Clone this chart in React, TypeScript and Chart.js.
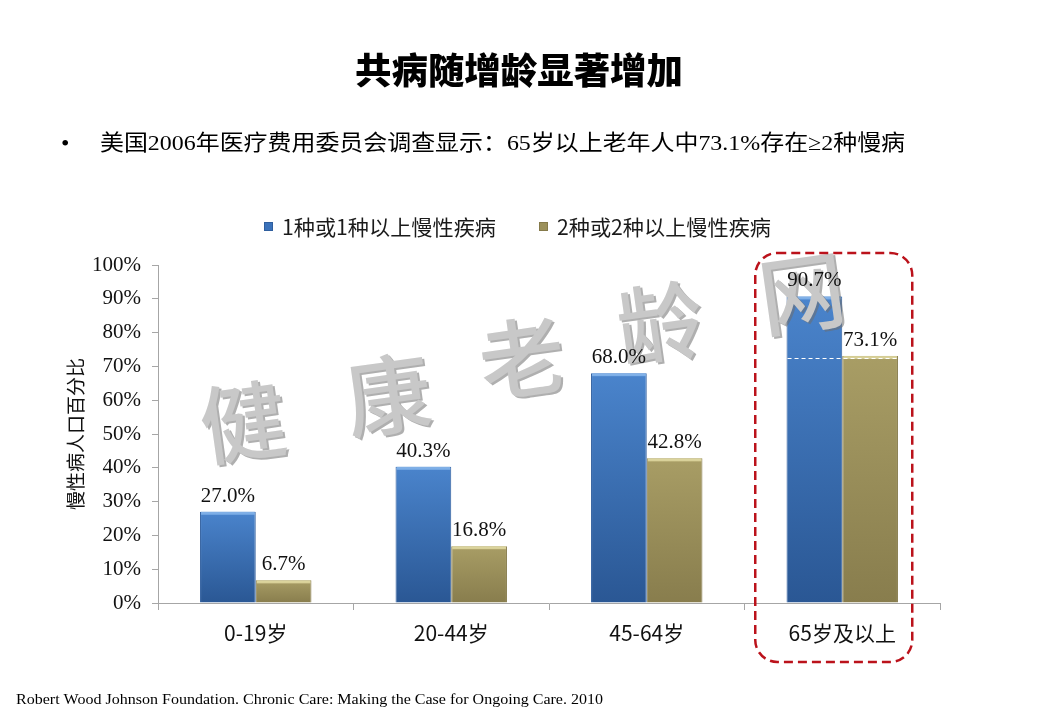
import React, { useEffect, useRef } from "react";
import { Chart, registerables } from "chart.js";

Chart.register(...registerables);

const categories = ["0-19岁", "20-44岁", "45-64岁", "65岁及以上"];
const oneOrMore = [27.0, 40.3, 68.0, 90.7];
const twoOrMore = [6.7, 16.8, 42.8, 73.1];
const seriesNames = ["1种或1种以上慢性疾病", "2种或2种以上慢性疾病"];
const yTickValues = [0, 10, 20, 30, 40, 50, 60, 70, 80, 90, 100];
const yAxisTitle = "慢性病人口百分比";
const titleText = "共病随增龄显著增加";
const bulletText = "美国2006年医疗费用委员会调查显示：65岁以上老年人中73.1%存在≥2种慢病";
const sourceText = "Robert Wood Johnson Foundation. Chronic Care: Making the Case for Ongoing Care. 2010";
const watermarkChars = ["健", "康", "老", "龄", "网"];
const highlightIndex = 3;

const CJK = "'Noto Sans CJK SC', 'Noto Sans', sans-serif";
const SERIF = "'Liberation Serif', 'DejaVu Serif', serif";

const palettes = [
  { top: "#4a84cc", bottom: "#2a5794", flat: "#3b72ba", edge: "#2f5e9e", hi: "#86b6ec" },
  { top: "#a89d65", bottom: "#887d4d", flat: "#9c915b", edge: "#857a4a", hi: "#e2daa2" },
];

function barFill(ds: number) {
  return (ctx: any) => {
    const p = palettes[ds];
    const chart = ctx.chart;
    const ys = chart.scales && chart.scales.y;
    if (!ys || !ctx.parsed || ctx.parsed.y == null) return p.flat;
    const top = ys.getPixelForValue(ctx.parsed.y);
    const bottom = ys.getPixelForValue(0);
    if (!isFinite(top) || !isFinite(bottom) || top === bottom) return p.flat;
    const g = chart.ctx.createLinearGradient(0, top, 0, bottom);
    g.addColorStop(0, p.top);
    g.addColorStop(1, p.bottom);
    return g;
  };
}

function fitText(ctx: any, text: string, x: number, y: number, width: number) {
  const w = ctx.measureText(text).width;
  ctx.save();
  ctx.translate(x, y);
  ctx.scale(width / w, 1);
  ctx.fillText(text, 0, 0);
  ctx.restore();
}

const decorPlugin = {
  id: "decor",
  beforeDraw(chart: any) {
    const { ctx } = chart;
    ctx.save();
    ctx.fillStyle = "#ffffff";
    ctx.fillRect(0, 0, chart.width, chart.height);
    // title
    ctx.fillStyle = "#000";
    ctx.textAlign = "left";
    ctx.textBaseline = "middle";
    ctx.font = `900 36px ${CJK}`;
    fitText(ctx, titleText, 355, 70, 328);
    // bullet
    ctx.font = `24px ${SERIF}`;
    ctx.fillText("•", 61, 145);
    ctx.font = `22px 'Liberation Serif', 'Noto Sans CJK SC'`;
    fitText(ctx, bulletText, 100, 144, 805);
    // source
    ctx.font = `15px ${SERIF}`;
    fitText(ctx, sourceText, 16, 700, 587);
    // legend
    const items = [
      { x: 264, text: seriesNames[0], p: palettes[0] },
      { x: 539, text: seriesNames[1], p: palettes[1] },
    ];
    ctx.font = `21px ${CJK}`;
    for (const it of items) {
      ctx.fillStyle = it.p.flat;
      ctx.fillRect(it.x, 222, 9, 9);
      ctx.strokeStyle = it.p.edge;
      ctx.lineWidth = 1;
      ctx.strokeRect(it.x + 0.5, 222.5, 8, 8);
      ctx.fillStyle = "#1a1a1a";
      ctx.textBaseline = "middle";
      fitText(ctx, it.text, it.x + 18, 227, 214);
    }
    ctx.restore();
  },
  afterDatasetsDraw(chart: any) {
    const { ctx } = chart;
    ctx.save();
    // bar top highlights
    chart.data.datasets.forEach((_: any, di: number) => {
      const meta = chart.getDatasetMeta(di);
      meta.data.forEach((bar: any) => {
        const w = bar.width;
        ctx.fillStyle = palettes[di].hi;
        ctx.globalAlpha = 0.85;
        ctx.fillRect(bar.x - w / 2 + 1, bar.y, w - 2, 3);
        ctx.globalAlpha = 1;
      });
    });
    // faint white dashed line at highlighted olive value
    const ys = chart.scales.y;
    const b0 = chart.getDatasetMeta(0).data[highlightIndex];
    const b1 = chart.getDatasetMeta(1).data[highlightIndex];
    const ly = Math.round(ys.getPixelForValue(twoOrMore[highlightIndex])) + 2.5;
    ctx.strokeStyle = "#ffffff";
    ctx.lineWidth = 1;
    ctx.setLineDash([4, 3]);
    ctx.beginPath();
    ctx.moveTo(b0.x - b0.width / 2 + 1, ly);
    ctx.lineTo(b1.x + b1.width / 2 + 4, ly);
    ctx.stroke();
    ctx.setLineDash([]);
    // watermark
    const pos = [
      [243, 422],
      [388, 395],
      [522, 358],
      [660, 323],
      [802, 293],
    ];
    ctx.font = `500 86px ${CJK}`;
    ctx.textAlign = "center";
    ctx.textBaseline = "middle";
    watermarkChars.forEach((c, i) => {
      ctx.save();
      ctx.translate(pos[i][0], pos[i][1]);
      ctx.rotate(-0.14);
      ctx.fillStyle = "rgba(110,110,110,0.55)";
      ctx.fillText(c, 2, 2);
      ctx.fillStyle = "#c8c8c8";
      ctx.fillText(c, 0, 0);
      ctx.restore();
    });
    ctx.restore();
  },
  afterDraw(chart: any) {
    const { ctx } = chart;
    ctx.save();
    // value labels
    ctx.font = `21px ${SERIF}`;
    ctx.fillStyle = "#111";
    ctx.textAlign = "center";
    ctx.textBaseline = "bottom";
    chart.data.datasets.forEach((ds: any, di: number) => {
      const meta = chart.getDatasetMeta(di);
      meta.data.forEach((bar: any, i: number) => {
        ctx.fillText(ds.data[i].toFixed(1) + "%", bar.x, bar.y - 5);
      });
    });
    // dashed highlight box
    const xs = chart.scales.x;
    const ca = chart.chartArea;
    const cx = xs.getPixelForValue(highlightIndex);
    const left = cx - 87;
    const right = cx + 70;
    const top = ca.top - 12;
    const bottom = ca.bottom + 59;
    ctx.strokeStyle = "#bb121b";
    ctx.lineWidth = 2.5;
    ctx.setLineDash([9, 5]);
    ctx.beginPath();
    ctx.roundRect(left, top, right - left, bottom - top, 22);
    ctx.stroke();
    ctx.restore();
  },
};

export default function App() {
  const ref = useRef<HTMLCanvasElement | null>(null);
  useEffect(() => {
    if (!ref.current) return;
    const chart = new Chart(ref.current, {
      type: "bar",
      data: {
        labels: categories,
        datasets: [
          {
            label: seriesNames[0],
            data: oneOrMore,
            backgroundColor: barFill(0),
            borderColor: palettes[0].edge,
            borderWidth: 1,
          },
          {
            label: seriesNames[1],
            data: twoOrMore,
            backgroundColor: barFill(1),
            borderColor: palettes[1].edge,
            borderWidth: 1,
          },
        ],
      },
      options: {
        responsive: false,
        animation: false,
        devicePixelRatio: 1,
        layout: { padding: { left: 60, right: 100, top: 265, bottom: 0 } },
        datasets: { bar: { barPercentage: 1, categoryPercentage: 0.57 } },
        plugins: {
          legend: { display: false },
          tooltip: { enabled: false },
          title: { display: false },
        },
        scales: {
          x: {
            offset: true,
            ticks: { font: { family: CJK, size: 21 }, color: "#111", padding: 10 },
            grid: { offset: true, drawOnChartArea: false, drawTicks: true, tickLength: 7, color: "#a6a6a6" },
            border: { color: "#a6a6a6" },
            afterFit: (s: any) => {
              s.height = 117;
            },
          },
          y: {
            min: 0,
            max: 100,
            afterBuildTicks: (s: any) => {
              s.ticks = yTickValues.map((v) => ({ value: v }));
            },
            ticks: {
              callback: (v: any) => v + "%",
              font: { family: SERIF, size: 21 },
              color: "#111",
              padding: 11,
            },
            grid: { drawOnChartArea: false, drawTicks: true, tickLength: 6, color: "#a6a6a6" },
            border: { color: "#a6a6a6" },
            title: {
              display: true,
              text: yAxisTitle,
              font: { family: CJK, size: 19 },
              color: "#111",
            },
            afterFit: (s: any) => {
              s.width = 98;
            },
          },
        },
      },
      plugins: [decorPlugin],
    });
    return () => chart.destroy();
  }, []);
  return (
    <div style={{ position: "absolute", left: 0, top: 0, width: 1040, height: 720, background: "#fff" }}>
      <canvas ref={ref} width={1040} height={720} style={{ display: "block" }} />
    </div>
  );
}
